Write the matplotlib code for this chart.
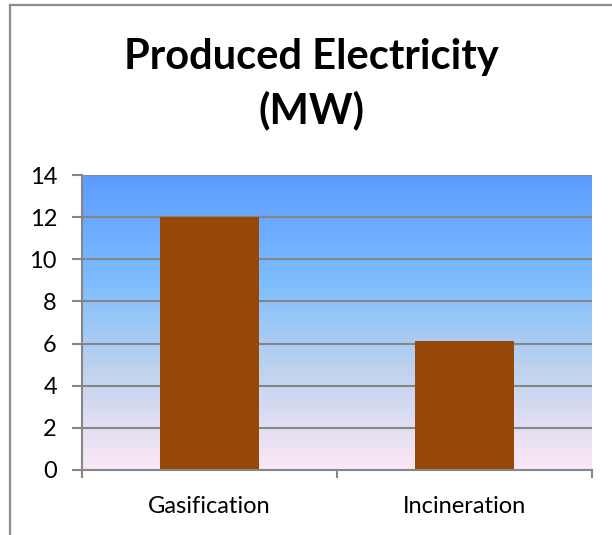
import numpy as np
import matplotlib
matplotlib.use("Agg")
import matplotlib.pyplot as plt
from matplotlib.colors import LinearSegmentedColormap
from matplotlib.lines import Line2D

categories = ["Gasification", "Incineration"]
values = [12.0, 6.1]
yticks = [0, 2, 4, 6, 8, 10, 12, 14]
title = "Produced Electricity\n(MW)"

W, H = 612, 535
fig = plt.figure(figsize=(W / 100, H / 100), dpi=100)
plt.rcParams['font.family'] = ['Lato', 'DejaVu Sans']

# plot area in pixel coordinates
left, right, top, bottom = 82, 592, 175, 470
ax = fig.add_axes([left / W, 1 - bottom / H, (right - left) / W, (bottom - top) / H])

# chart border (left and top edges)
fig.add_artist(Line2D([10 / W, 10 / W], [0, 1 - 4.5 / H], transform=fig.transFigure,
                      color="#8c8c8c", lw=1.6))
fig.add_artist(Line2D([10 / W, 1], [1 - 4.5 / H, 1 - 4.5 / H], transform=fig.transFigure,
                      color="#8c8c8c", lw=1.6))

# gradient background of the plot area: blue at top fading to pale pink
cmap = LinearSegmentedColormap.from_list(
    "bg", [(0.0, "#5b9bff"), (0.35, "#7cbcff"), (0.65, "#bcd2ee"), (1.0, "#fce8f6")])
grad = np.linspace(0, 1, 256).reshape(-1, 1)
ax.imshow(grad, aspect="auto", cmap=cmap, origin="upper",
          extent=[-0.5, 1.5, 0, 14], zorder=0)

x = np.arange(len(categories))
ax.set_xlim(-0.5, 1.5)
ax.set_ylim(0, 14)

for y in yticks[1:]:
    ax.axhline(y, color="#868686", lw=1.5, zorder=1)

ax.bar(x, values, width=0.39, color="#974706", zorder=2)

for s in ["top", "right"]:
    ax.spines[s].set_visible(False)
for s in ["left", "bottom"]:
    ax.spines[s].set_color("#868686")
    ax.spines[s].set_linewidth(1.5)

ax.set_yticks(yticks)
ax.set_yticklabels([str(v) for v in yticks], fontsize=17)
ax.tick_params(axis="y", length=7, width=1.5, color="#868686", pad=11)

ax.set_xticks([-0.5, 0.5, 1.5])
ax.set_xticklabels([])
ax.tick_params(axis="x", length=6, width=1.5, color="#868686")
for xi, lab in zip(x, categories):
    ax.text(xi, -1.25, lab, ha="center", va="top", fontsize=17,
            transform=ax.transData, clip_on=False)

fig.text(311 / W, 1 - 84 / H, title, ha="center", va="center",
         fontsize=30, fontweight="bold", linespacing=1.45)

fig.savefig("out.png", dpi=100)
